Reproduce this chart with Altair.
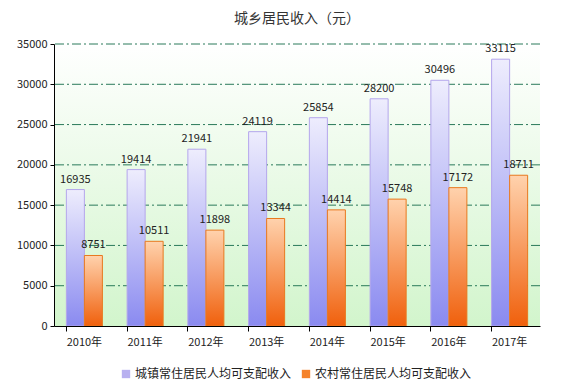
import altair as alt
import pandas as pd

years = ["2010年", "2011年", "2012年", "2013年", "2014年", "2015年", "2016年", "2017年"]
urban = [16935, 19414, 21941, 24119, 25854, 28200, 30496, 33115]
rural = [8751, 10511, 11898, 13344, 14414, 15748, 17172, 18711]
series = ["城镇常住居民人均可支配收入", "农村常住居民人均可支配收入"]
grid_values = [5000, 10000, 15000, 20000, 25000, 30000, 35000]
y_ticks = [0, 5000, 10000, 15000, 20000, 25000, 30000, 35000]

rows = []
for yr, u, r in zip(years, urban, rural):
    rows.append({"year": yr, "series": series[0], "value": u})
    rows.append({"year": yr, "series": series[1], "value": r})
df = pd.DataFrame(rows)

W, H = 486, 282
FONT = "Noto Sans CJK SC"

x_enc = alt.X("year:N", sort=years,
              scale=alt.Scale(domain=years, paddingInner=0.407, paddingOuter=0.2035),
              axis=alt.Axis(title=None, labelAngle=0, domainColor="black", tickColor="black",
                            bandPosition=0, tickSize=5, labelPadding=5, labelFontSize=11,
                            labelColor="#222", labelFont=FONT, grid=False, zindex=2))
y_enc = alt.Y("value:Q", scale=alt.Scale(domain=[0, 35000], nice=False),
              axis=alt.Axis(title=None, values=y_ticks, grid=False, domainColor="black",
                            tickColor="black", tickSize=4, labelPadding=3, labelFontSize=11,
                            labelColor="#222", labelFont=FONT, format="d", zindex=2))
xoff = alt.XOffset("series:N", sort=series,
                   scale=alt.Scale(domain=series, paddingInner=0, paddingOuter=0))

bg = alt.Chart(alt.Data(values=[{}])).mark_rect(
    fill=alt.Gradient(gradient="linear", x1=0, y1=0, x2=0, y2=1,
                      stops=[alt.GradientStop(offset=0, color="#ffffff"),
                             alt.GradientStop(offset=1, color="#d2f5cc")])
).encode(x=alt.value(0), x2=alt.value(W), y=alt.value(0), y2=alt.value(H))

grid = alt.Chart(pd.DataFrame({"value": grid_values})).mark_rule(
    color="#2a7a5a", strokeDash=[9, 3, 2, 3], strokeWidth=1
).encode(y=alt.Y("value:Q"))

blue_grad = alt.Gradient(gradient="linear", x1=0, y1=0, x2=0, y2=1,
                         stops=[alt.GradientStop(offset=0, color="#eeedfd"),
                                alt.GradientStop(offset=1, color="#8a8af0")])
orange_grad = alt.Gradient(gradient="linear", x1=0, y1=0, x2=0, y2=1,
                           stops=[alt.GradientStop(offset=0, color="#ffd2ad"),
                                  alt.GradientStop(offset=1, color="#f0600c")])

base = alt.Chart(df)
bars_u = base.transform_filter(alt.datum.series == series[0]).mark_bar(
    fill=blue_grad, stroke="#b4a6ec", strokeWidth=1
).encode(x=x_enc, y=y_enc, xOffset=xoff)
bars_r = base.transform_filter(alt.datum.series == series[1]).mark_bar(
    fill=orange_grad, stroke="#e8781e", strokeWidth=1
).encode(x=x_enc, y=y_enc, xOffset=xoff)

labels = base.mark_text(dy=-10, fontSize=11, color="#222", font=FONT).encode(
    x=x_enc, y=y_enc, xOffset=xoff, text=alt.Text("value:Q", format="d"))

legend_layer = base.mark_square(opacity=0, size=1).encode(
    x=x_enc, y=y_enc, xOffset=xoff,
    color=alt.Color("series:N", sort=series,
                    scale=alt.Scale(domain=series, range=["#b8b0f0", "#f5822a"]),
                    legend=alt.Legend(title=None, orient="none", legendX=66, legendY=324,
                                      direction="horizontal", symbolType="square",
                                      symbolSize=70, symbolOpacity=1, symbolStrokeWidth=0,
                                      labelFontSize=12, labelFont=FONT, labelColor="#222",
                                      columnPadding=8, labelOffset=3)))

chart = alt.layer(bg, grid, bars_u, bars_r, labels, legend_layer).properties(
    width=W, height=H,
    title=alt.TitleParams("城乡居民收入（元）", fontSize=14, font=FONT, fontWeight="normal",
                          color="#333", anchor="middle", offset=12),
    autosize=alt.AutoSizeParams(type="none"),
    padding={"left": 46, "top": 36, "right": 14, "bottom": 57},
).configure_view(stroke=None)

chart.save("out.html", embed_options={"renderer": "svg", "actions": False})
